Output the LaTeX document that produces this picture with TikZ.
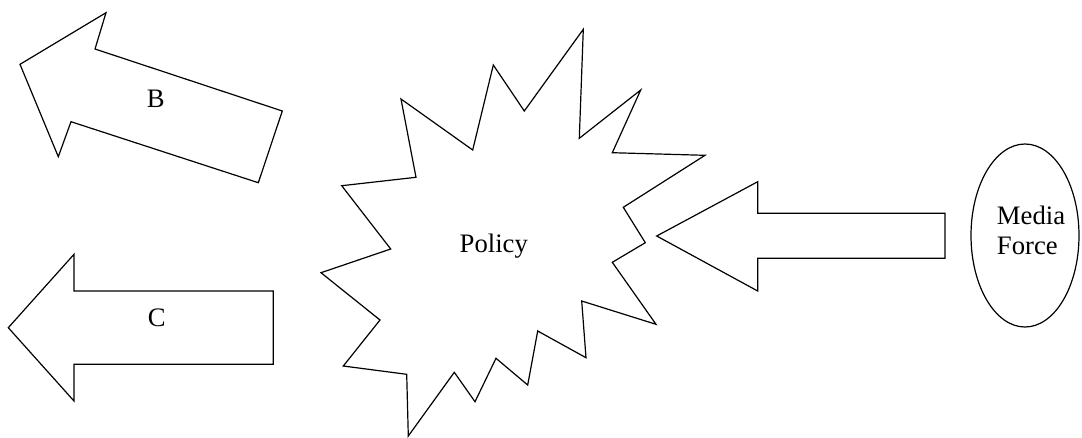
\documentclass[tikz,border=0pt]{standalone}
\usepackage{fontspec}
\setmainfont{Liberation Serif}
\usetikzlibrary{shapes.geometric}
\begin{document}
\begin{tikzpicture}[x=0.75pt,y=-0.75pt,
  shapeline/.style={draw=black,line width=0.9pt,line join=miter},
  lbl/.style={inner sep=0pt,font=\fontsize{20}{22.5}\selectfont}]
\useasboundingbox (0,0) rectangle (1082,437);
% Arrow B
\draw[shapeline] (106,12.7) -- (95,49) -- (282.3,111) -- (258.3,182.7) -- (71,121.7) -- (58.3,156.7) -- (20,64.3) -- cycle;
\node[lbl,anchor=base] (b) at (155.7,107.3) {B};
% Arrow C
\draw[shapeline] (8.3,327.7) -- (74,254.3) -- (74,291) -- (273.3,291) -- (273.3,364.3) -- (74,364.3) -- (74,401) -- cycle;
\node[lbl,anchor=base] (c) at (156.7,326.3) {C};
% Star
\draw[shapeline] (583.3,29.3) -- (579.3,138.3) -- (640.7,90) -- (612.3,152.7) -- (705,155.3) -- (623.3,207.3) -- (645.3,242.7) -- (612.3,262.3) -- (656,324.3) -- (581.7,301) -- (586,357.7) -- (537.7,331) -- (527.7,385) -- (496,358.3) -- (475,401.7) -- (454.3,372.3) -- (408.3,436) -- (406.7,374.3) -- (343.3,366) -- (380,320) -- (321,272.7) -- (390.7,249) -- (341.7,185.7) -- (416,177.3) -- (401,99) -- (472.7,150) -- (493.3,65) -- (524.3,111) -- cycle;
\node[lbl,anchor=base] (policy) at (493.8,252.3) {Policy};
% Media arrow
\draw[shapeline] (656.7,236) -- (757.7,181.7) -- (757.7,213.3) -- (945,213.3) -- (945,258.3) -- (757.7,258.3) -- (757.7,291) -- cycle;
% Ellipse
\node[shapeline,ellipse,inner sep=0pt,minimum width=81pt,minimum height=137.25pt] (mediaellipse) at (1025,235.5) {};
\node[lbl,align=left,anchor=west] (media) at (996.7,230) {Media\\Force};
\end{tikzpicture}
\end{document}
